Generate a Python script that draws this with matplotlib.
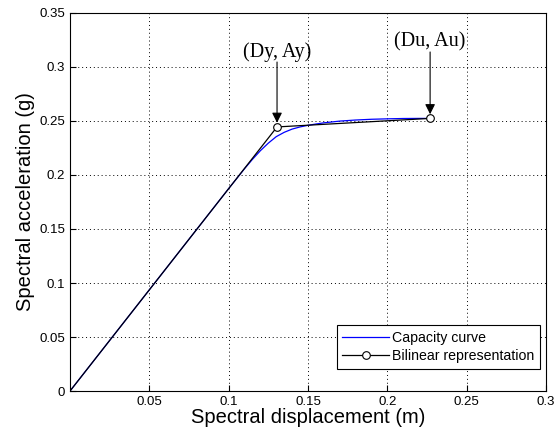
import numpy as np
import matplotlib
matplotlib.use("Agg")
import matplotlib.pyplot as plt

# capacity curve
sd_cap = [0, 0.05, 0.10, 0.105, 0.11, 0.115, 0.12, 0.125, 0.13, 0.135, 0.14,
          0.145, 0.15, 0.155, 0.16, 0.17, 0.18, 0.19, 0.20, 0.21, 0.22, 0.227]
sa_cap = [0, 0.0937, 0.1874, 0.1966, 0.2058, 0.2145, 0.2225, 0.2295, 0.2355,
          0.2395, 0.2425, 0.2445, 0.2460, 0.2472, 0.2483, 0.2499, 0.2509,
          0.2516, 0.2520, 0.2523, 0.2524, 0.2524]

# bilinear representation
sd_bil = [0, 0.1305, 0.227]
sa_bil = [0, 0.2445, 0.2524]

xticks = [0.05, 0.1, 0.15, 0.2, 0.25, 0.3]
yticks = [0, 0.05, 0.1, 0.15, 0.2, 0.25, 0.3, 0.35]

plt.rcParams['font.family'] = ['Liberation Sans', 'DejaVu Sans']

fig = plt.figure(figsize=(5.54, 4.36), dpi=100)
ax = fig.add_axes([0.1264, 0.1032, 0.859, 0.867])

ax.plot(sd_cap, sa_cap, color='#0000ff', lw=0.9, label='Capacity curve')
ax.plot(sd_bil, sa_bil, color='black', lw=0.9, marker='o', markevery=[1, 2],
        ms=5.5, mfc='white', mec='black', mew=0.8, label='Bilinear representation')

ax.set_xlim(0, 0.3)
ax.set_ylim(0, 0.35)
ax.set_xticks(xticks)
ax.set_xticklabels([f'{v:g}' for v in xticks])
ax.set_yticks(yticks)
ax.set_yticklabels([f'{v:g}' for v in yticks])
ax.tick_params(direction='in', labelsize=9.5, length=4, colors='black')
ax.grid(True, linestyle=(0, (1, 3)), color='black', lw=0.7)
for s in ax.spines.values():
    s.set_linewidth(0.8)

ax.set_xlabel('Spectral displacement (m)', fontsize=14.5, labelpad=0)
ax.set_ylabel('Spectral acceleration (g)', fontsize=14.5, labelpad=3)

# annotations: label text and arrow drawn separately
ax.text(sd_bil[1], 0.3142, '(Dy, Ay)', ha='center', va='center',
        fontsize=14.5, family='Liberation Serif')
ax.text(sd_bil[2], 0.3234, '(Du, Au)', ha='center', va='center',
        fontsize=14.5, family='Liberation Serif')
arrow = dict(arrowstyle='-|>', color='black', lw=0.8, mutation_scale=15,
             shrinkA=0, shrinkB=3)
ax.annotate('', xy=(sd_bil[1], sa_bil[1]), xytext=(sd_bil[1], 0.3046),
            arrowprops=arrow)
ax.annotate('', xy=(sd_bil[2], sa_bil[2]), xytext=(sd_bil[2], 0.3139),
            arrowprops=arrow)

leg = ax.legend(loc='lower right', bbox_to_anchor=(0.987, 0.058),
                fontsize=10.2, fancybox=False, edgecolor='black',
                framealpha=1, borderaxespad=0, handlelength=3.3,
                labelspacing=0.3, borderpad=0.4, handletextpad=0.2)
leg.get_frame().set_linewidth(0.8)

fig.savefig('out.png', dpi=100)
